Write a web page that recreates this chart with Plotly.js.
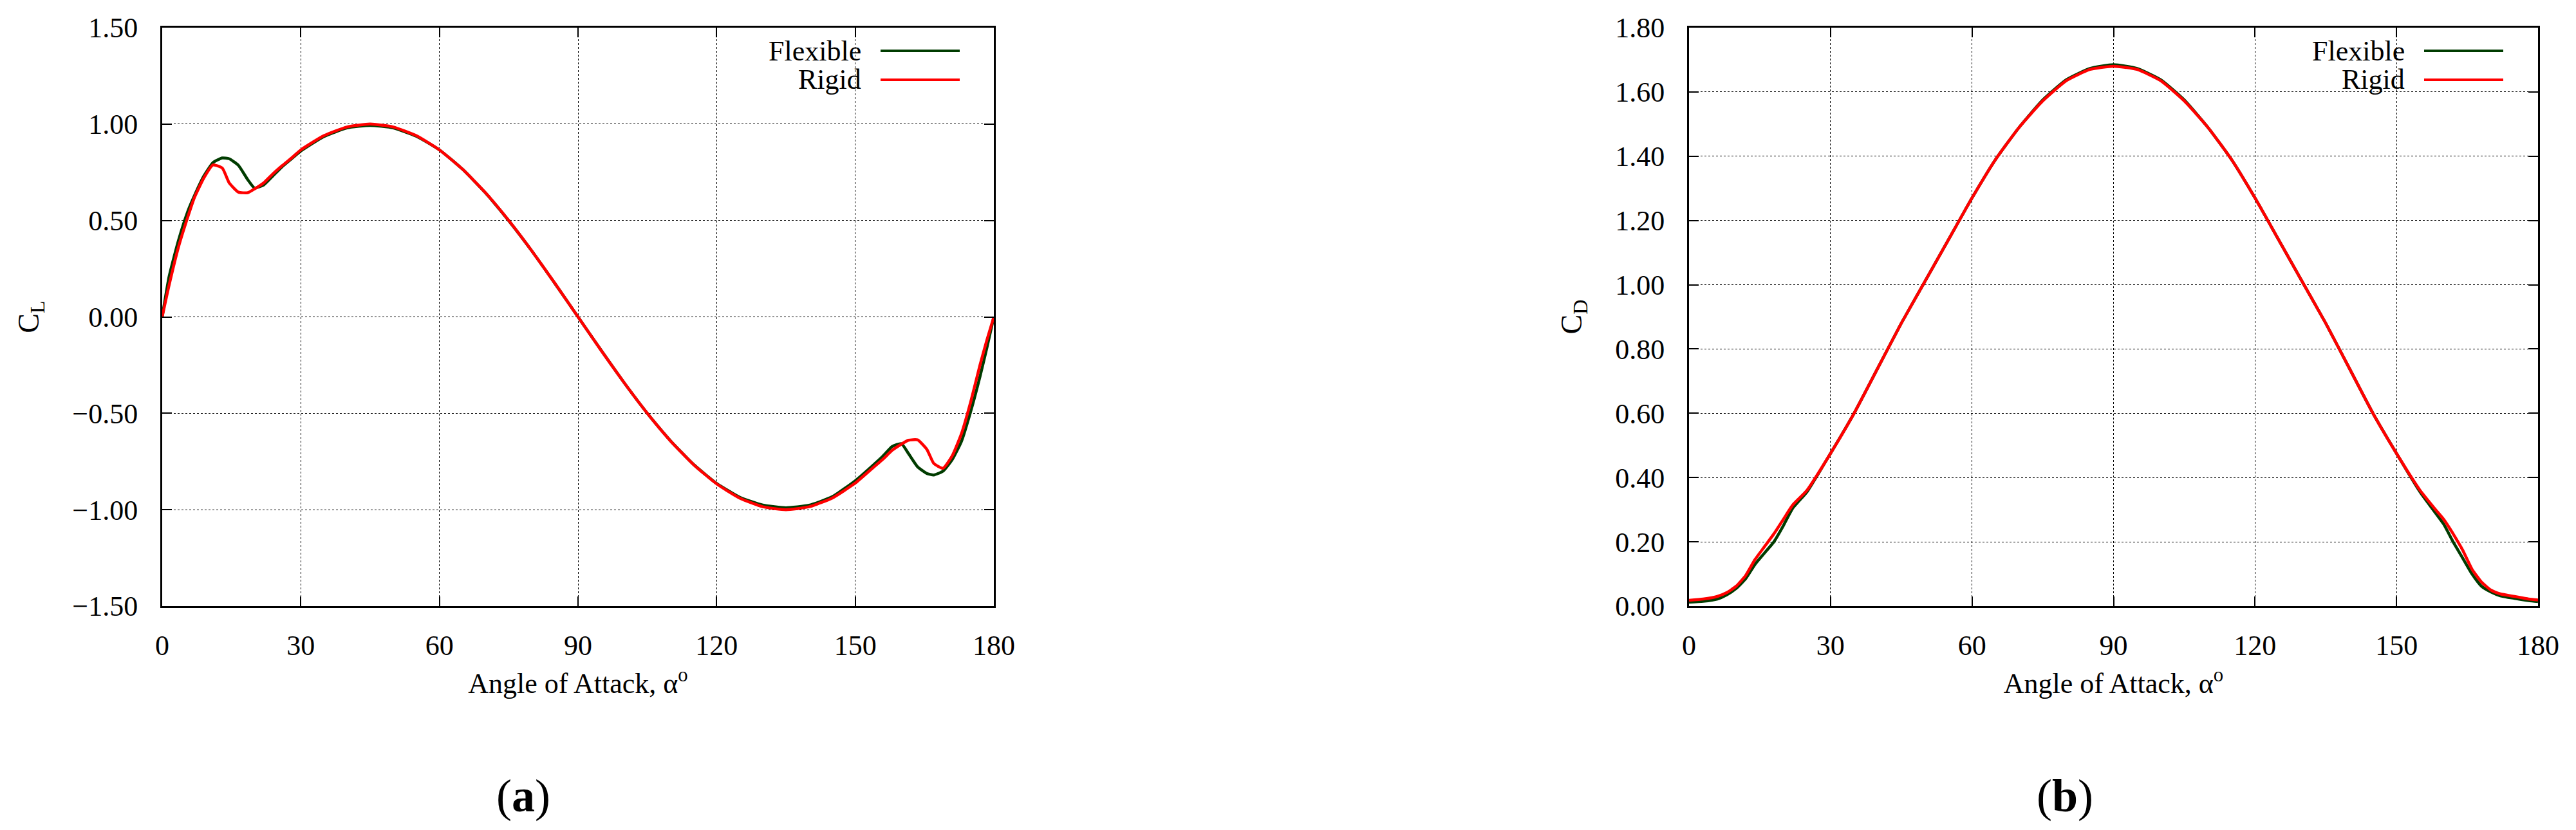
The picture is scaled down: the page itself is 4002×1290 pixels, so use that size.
<!DOCTYPE html>
<html>
<head>
<meta charset="utf-8">
<script src="https://cdn.plot.ly/plotly-3.0.1.min.js"></script>
<style>
  html, body { margin: 0; padding: 0; background: #fff; }
  #chart { width: 4002px; height: 1290px; }
</style>
</head>
<body>
<div id="chart"></div>
<script>
/* lift coefficient vs angle of attack */
var alphaCL = [0, 1.5, 3.5, 5.5, 7, 9, 11, 13, 14.5, 16.5, 18.5, 20, 22, 24, 26, 28, 30, 35, 40, 45,
  50, 55, 60, 65, 70, 75, 80, 85, 90, 95, 100, 105, 110, 115, 120, 125, 130, 135, 140, 145,
  150, 153, 156, 158, 160, 161.5, 163.5, 165.5, 167, 169, 171, 173, 175, 177, 178.5, 180];
var clFlexible = [0, 0.21, 0.395, 0.545, 0.63, 0.73, 0.80, 0.824, 0.82, 0.786, 0.712, 0.668, 0.685, 0.732, 0.78, 0.82, 0.86, 0.935, 0.98, 0.993,
  0.98, 0.937, 0.866, 0.766, 0.642, 0.499, 0.342, 0.173, 0, -0.173, -0.342, -0.5, -0.642, -0.765, -0.864, -0.935, -0.976, -0.99, -0.977, -0.933,
  -0.85, -0.788, -0.722, -0.672, -0.658, -0.708, -0.778, -0.812, -0.82, -0.80, -0.74, -0.645, -0.49, -0.31, -0.16, 0];
var clRigid = [0, 0.165, 0.36, 0.515, 0.62, 0.72, 0.788, 0.772, 0.695, 0.647, 0.644, 0.664, 0.696, 0.743, 0.785, 0.824, 0.866, 0.94, 0.985, 1.0,
  0.985, 0.94, 0.866, 0.766, 0.643, 0.5, 0.342, 0.174, 0, -0.174, -0.342, -0.5, -0.643, -0.766, -0.866, -0.94, -0.985, -1.0, -0.985, -0.94,
  -0.862, -0.80, -0.738, -0.692, -0.66, -0.64, -0.638, -0.687, -0.76, -0.785, -0.72, -0.605, -0.44, -0.25, -0.12, 0];

/* drag coefficient vs angle of attack */
var alphaCD = [0, 3, 6, 8, 10, 12, 14, 16, 18, 20, 22, 25, 30, 35, 40, 45, 50, 55, 60, 65, 70, 75, 80, 85, 90,
  95, 100, 105, 110, 115, 120, 125, 130, 135, 140, 145, 150, 155, 158, 160, 162, 164, 166, 168, 170, 172, 175, 178, 180];
var cdFlexible = [0.012, 0.015, 0.022, 0.035, 0.055, 0.085, 0.13, 0.165, 0.20, 0.25, 0.305, 0.355, 0.475, 0.60, 0.74, 0.88, 1.01, 1.14, 1.27, 1.39, 1.49, 1.575, 1.638, 1.673, 1.685,
  1.673, 1.638, 1.575, 1.49, 1.39, 1.27, 1.14, 1.01, 0.88, 0.74, 0.60, 0.475, 0.355, 0.295, 0.255, 0.20, 0.15, 0.10, 0.062, 0.044, 0.032, 0.024, 0.017, 0.014];
var cdRigid = [0.018, 0.022, 0.03, 0.042, 0.062, 0.095, 0.145, 0.185, 0.225, 0.27, 0.315, 0.36, 0.475, 0.60, 0.74, 0.88, 1.01, 1.14, 1.27, 1.39, 1.49, 1.572, 1.635, 1.67, 1.68,
  1.67, 1.635, 1.572, 1.49, 1.39, 1.27, 1.14, 1.01, 0.88, 0.74, 0.60, 0.475, 0.36, 0.305, 0.27, 0.225, 0.175, 0.115, 0.075, 0.05, 0.038, 0.03, 0.022, 0.019];

var seriesNames = ['Flexible', 'Rigid'];
var seriesColors = ['#003c00', '#ff0000'];
var xTicks = [0, 30, 60, 90, 120, 150, 180];

var W = 4002, H = 1290;
function px(x) { return x / W; }
function py(y) { return 1 - y / H; }

var FONT = 'Liberation Serif, Times New Roman, serif';

function lineTrace(x, y, i, xa, ya) {
  return { x: x, y: y, xaxis: xa, yaxis: ya, name: seriesNames[i], mode: 'lines', type: 'scatter',
           line: { color: seriesColors[i], width: 4.5, shape: 'spline', smoothing: 0.5 },
           showlegend: false, hoverinfo: 'skip' };
}

var data = [
  lineTrace(alphaCL, clFlexible, 0, 'x', 'y'),
  lineTrace(alphaCL, clRigid, 1, 'x', 'y'),
  lineTrace(alphaCD, cdFlexible, 0, 'x2', 'y2'),
  lineTrace(alphaCD, cdRigid, 1, 'x2', 'y2')
];

function xAxis(dom, anchor) {
  return { domain: dom, anchor: anchor, range: [0, 180], tickvals: xTicks, showline: true, mirror: 'ticks',
    linecolor: '#000', linewidth: 3, ticks: 'inside', ticklen: 15, tickwidth: 2, tickcolor: '#000',
    showgrid: true, gridcolor: '#000', gridwidth: 1, griddash: '3px,3px', zeroline: false,
    ticklabelstandoff: 20, tickfont: { family: FONT, size: 44, color: '#000' },
    title: { text: 'Angle of Attack, α<sup>o</sup>', font: { family: FONT, size: 44, color: '#000' }, standoff: 20 } };
}
function yAxis(dom, anchor, range, dtick, label, standoff) {
  return { domain: dom, anchor: anchor, range: range, dtick: dtick, tick0: 0, tickformat: '.2f', showline: true, mirror: 'ticks',
    linecolor: '#000', linewidth: 3, ticks: 'inside', ticklen: 15, tickwidth: 2, tickcolor: '#000',
    showgrid: true, gridcolor: '#000', gridwidth: 1, griddash: '3px,3px', zeroline: false,
    ticklabelstandoff: 26, tickfont: { family: FONT, size: 44, color: '#000' },
    title: { text: label, font: { family: FONT, size: 46, color: '#000' }, standoff: standoff } };
}

var yDom = [py(942), py(43)];
var layout = {
  width: W, height: H, margin: { l: 0, r: 0, t: 0, b: 0 },
  paper_bgcolor: '#fff', plot_bgcolor: '#fff', showlegend: false,
  xaxis: xAxis([px(252), px(1544)], 'y'),
  yaxis: yAxis(yDom, 'x', [-1.5, 1.5], 0.5, 'C<sub>L</sub>', 38),
  xaxis2: xAxis([px(2624), px(3943)], 'y2'),
  yaxis2: yAxis(yDom, 'x2', [0, 1.8], 0.2, 'C<sub>D</sub>', 38),
  shapes: [], annotations: []
};

/* key boxes, text on the left and line sample on the right, like gnuplot */
function addKey(textRight, lineX0, lineX1, boxX0, boxX1) {
  layout.shapes.push({ type: 'rect', xref: 'paper', yref: 'paper', layer: 'between',
    x0: px(boxX0), x1: px(boxX1), y0: py(150), y1: py(57), fillcolor: '#fff', line: { width: 0 } });
  var rows = [79, 124];
  for (var i = 0; i < seriesNames.length; i++) {
    layout.annotations.push({ xref: 'paper', yref: 'paper', x: px(textRight), y: py(rows[i]),
      xanchor: 'right', yanchor: 'middle', showarrow: false, text: seriesNames[i],
      font: { family: FONT, size: 44, color: '#000' } });
    layout.shapes.push({ type: 'line', xref: 'paper', yref: 'paper', layer: 'above',
      x0: px(lineX0), x1: px(lineX1), y0: py(rows[i]), y1: py(rows[i]),
      line: { color: seriesColors[i], width: 4 } });
  }
}
addKey(1340, 1368, 1491, 1127, 1517);
addKey(3738, 3766, 3889, 3525, 3915);

/* panel letters */
layout.annotations.push({ xref: 'paper', yref: 'paper', x: px(813), y: py(1237), xanchor: 'center', yanchor: 'middle',
  showarrow: false, text: '(<b>a</b>)', font: { family: FONT, size: 72, color: '#000' } });
layout.annotations.push({ xref: 'paper', yref: 'paper', x: px(3208), y: py(1237), xanchor: 'center', yanchor: 'middle',
  showarrow: false, text: '(<b>b</b>)', font: { family: FONT, size: 72, color: '#000' } });

Plotly.newPlot('chart', data, layout, { staticPlot: true, displayModeBar: false });
</script>
</body>
</html>
